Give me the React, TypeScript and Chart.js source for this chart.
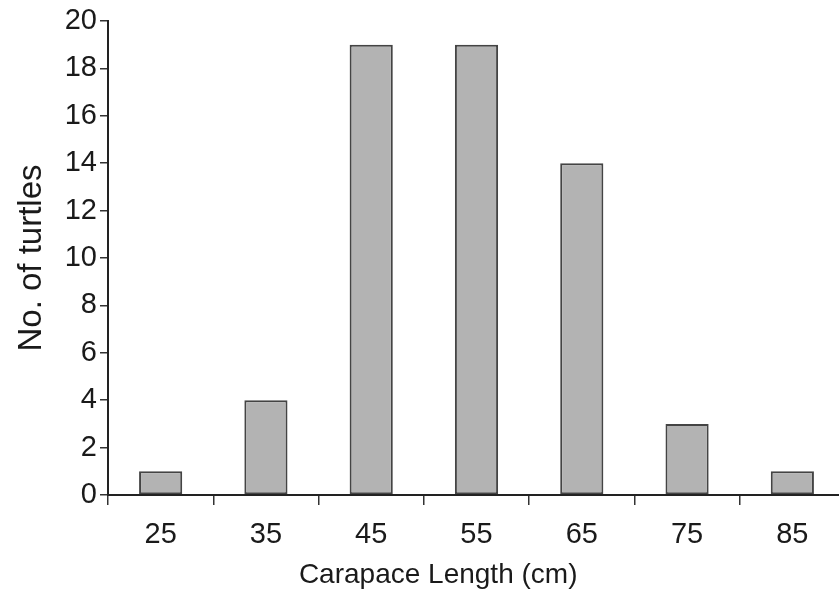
import React, { useEffect, useRef } from "react";
import { Chart, registerables } from "chart.js";

Chart.register(...registerables);

const categories = ["25", "35", "45", "55", "65", "75", "85"];
const turtleCounts = [1, 4, 19, 19, 14, 3, 1];
const yTicks = [0, 2, 4, 6, 8, 10, 12, 14, 16, 18, 20];
const xTitle = "Carapace Length (cm)";
const yTitle = "No. of turtles";

const TICK_FONT = '"Liberation Sans", Arial, sans-serif';
const TITLE_FONT = '"Liberation Sans", Arial, sans-serif';

const xTitlePlugin = {
  id: "xTitlePlugin",
  afterDraw(chart: any) {
    const { ctx, chartArea } = chart;
    ctx.save();
    ctx.font = `28px ${TITLE_FONT}`;
    ctx.fillStyle = "#1a1a1a";
    ctx.textAlign = "center";
    ctx.textBaseline = "alphabetic";
    const cx = chartArea.left + chartArea.width * 0.448;
    ctx.fillText(xTitle, cx, chartArea.bottom + 88);
    ctx.restore();
  },
};

export default function App() {
  const ref = useRef<HTMLCanvasElement | null>(null);
  useEffect(() => {
    if (!ref.current) return;
    const chart = new Chart(ref.current, {
      type: "bar",
      data: {
        labels: categories,
        datasets: [
          {
            data: turtleCounts,
            backgroundColor: "#b3b3b3",
            borderColor: "#444444",
            borderWidth: 2,
            borderSkipped: false,
            categoryPercentage: 1,
            barPercentage: 0.41,
          },
        ],
      },
      options: {
        animation: false,
        responsive: false,
        maintainAspectRatio: false,
        devicePixelRatio: 1,
        layout: { padding: { top: 21, right: 0, left: 0, bottom: 0 } },
        plugins: { legend: { display: false }, tooltip: { enabled: false } },
        scales: {
          x: {
            offset: true,
            grid: {
              offset: true,
              drawOnChartArea: false,
              drawTicks: true,
              tickLength: 10,
              color: "#333",
              lineWidth: 1.5,
            },
            border: { display: true, color: "#222", width: 2 },
            ticks: {
              color: "#1a1a1a",
              font: { family: TICK_FONT, size: 29 },
              padding: 13,
              maxRotation: 0,
            },
            afterFit(scale: any) {
              scale.height = 116;
            },
          },
          y: {
            min: 0,
            max: 20,
            afterBuildTicks(scale: any) {
              scale.ticks = yTicks.map((v) => ({ value: v }));
            },
            grid: {
              drawOnChartArea: false,
              drawTicks: true,
              tickLength: 8,
              color: "#333",
              lineWidth: 1.5,
            },
            border: { display: true, color: "#222", width: 2 },
            ticks: {
              color: "#1a1a1a",
              font: { family: TICK_FONT, size: 29 },
              padding: 3,
            },
            title: {
              display: true,
              text: yTitle,
              color: "#1a1a1a",
              font: { family: TITLE_FONT, size: 33 },
              padding: { top: 12, bottom: 0 },
            },
            afterFit(scale: any) {
              scale.width = 108;
            },
          },
        },
      },
      plugins: [xTitlePlugin],
    });
    return () => chart.destroy();
  }, []);
  return (
    <div
      style={{
        position: "fixed",
        left: 0,
        top: 0,
        width: 839,
        height: 611,
        overflow: "hidden",
        background: "#fff",
      }}
    >
      <canvas ref={ref} width={845} height={611} style={{ width: 845, height: 611 }} />
    </div>
  );
}
